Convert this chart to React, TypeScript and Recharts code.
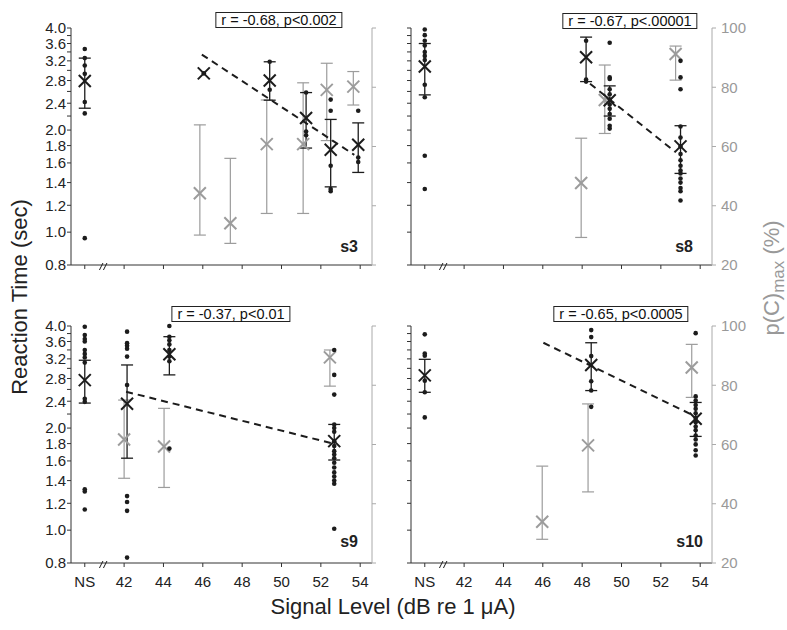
import React from "react";
import { ScatterChart, Scatter, XAxis, YAxis, ErrorBar, ReferenceDot } from "recharts";

const FONT = "'Liberation Sans', Arial, Helvetica, sans-serif";
const BLACK = "#1c1c1c";
const GRAY = "#9c9c9c";

// axis ticks
const rtTicks = [0.8, 1.0, 1.2, 1.4, 1.6, 1.8, 2.0, 2.2, 2.4, 2.6, 2.8, 3.0, 3.2, 3.4, 3.6, 3.8, 4.0];
const rtLabeled = [0.8, 1.0, 1.2, 1.4, 1.6, 1.8, 2.0, 2.4, 2.8, 3.2, 3.6, 4.0];
const pcTicks = [20, 40, 60, 80, 100];
const levelTicks = [40, 42, 44, 46, 48, 50, 52, 54]; // 40 = NS (no signal)

// s3 -- trials [level, RT], means [level, RT, low, high], p(C)max [level, %, low, high]
const s3Trials = [
  [40, 3.47], [40, 3.26], [40, 3.1], [40, 2.93], [40, 2.42], [40, 2.24], [40, 0.96],
  [46.05, 2.94],
  [49.4, 3.18], [49.4, 2.63],
  [51.25, 2.58], [51.25, 1.98], [51.25, 1.93],
  [52.5, 2.46], [52.5, 2.28], [52.5, 1.57], [52.5, 1.34], [52.5, 1.32],
  [53.9, 2.28], [53.9, 1.66], [53.9, 1.61],
];
const s3Means = [
  [40, 2.79, 2.32, 3.26], [46.05, 2.94, null, null], [49.4, 2.8, 2.45, 3.18],
  [51.25, 2.17, 1.77, 2.58], [52.5, 1.75, 1.36, 2.15], [53.9, 1.81, 1.5, 2.1],
];
const s3Pc = [
  [45.85, 44.2, 30.1, 67.3], [47.4, 34.1, 27.3, 56.0], [49.25, 60.8, 37.4, 75.7],
  [51.1, 60.8, 37.4, 81.5], [52.3, 79.1, 62, 88.1], [53.65, 80.2, 74, 85.3],
];
const s3Fit = [[45.95, 3.34], [53.7, 1.69]];

// s8
const s8Trials = [
  [40, 3.96], [40, 3.81], [40, 3.67], [40, 3.55], [40, 3.4], [40, 3.31], [40, 3.22], [40, 2.72], [40, 2.5], [40, 1.68], [40, 1.34],
  [48.2, 3.67], [48.2, 2.82], [48.2, 2.78],
  [49.4, 3.62], [49.4, 2.86], [49.4, 2.83], [49.4, 2.64], [49.4, 2.55], [49.4, 2.46], [49.4, 2.38], [49.4, 2.31], [49.4, 2.23], [49.4, 2.16], [49.4, 2.06], [49.4, 2.02],
  [53.0, 3.2], [53.0, 2.86], [53.0, 2.64], [53.0, 2.05], [53.0, 1.9], [53.0, 1.79], [53.0, 1.7], [53.0, 1.63], [53.0, 1.57], [53.0, 1.52], [53.0, 1.49], [53.0, 1.44], [53.0, 1.4], [53.0, 1.35], [53.0, 1.32], [53.0, 1.24],
];
const s8Means = [
  [40, 3.08, 2.54, 3.6], [48.2, 3.28, 2.78, 3.76], [49.4, 2.45, 2.2, 2.7], [53.0, 1.79, 1.49, 2.06],
];
const s8Pc = [[47.95, 47.7, 29.3, 62.8], [49.15, 75.7, 64.4, 87.5], [52.75, 91.2, 82.4, 93.9]];
const s8Fit = [[48.4, 2.74], [52.7, 1.73]];

// s9
const s9Trials = [
  [40, 3.98], [40, 3.76], [40, 3.66], [40, 3.6], [40, 3.4], [40, 3.31], [40, 3.23], [40, 3.12], [40, 2.44], [40, 2.39], [40, 1.32], [40, 1.3], [40, 1.15],
  [42.15, 3.85], [42.15, 3.56], [42.15, 3.5], [42.15, 3.43], [42.15, 3.25], [42.15, 2.68], [42.15, 1.26], [42.15, 1.21], [42.15, 1.14], [42.15, 0.83],
  [44.3, 4.0], [44.3, 3.72], [44.3, 3.63], [44.3, 3.53], [44.3, 3.4], [44.3, 3.25], [44.3, 3.15], [44.3, 1.74],
  [52.68, 3.4], [52.68, 2.87], [52.68, 2.51], [52.68, 2.05], [52.68, 2.0], [52.68, 1.95], [52.68, 1.83], [52.68, 1.77], [52.68, 1.71], [52.68, 1.67], [52.68, 1.63], [52.68, 1.58], [52.68, 1.53], [52.68, 1.48], [52.68, 1.44], [52.68, 1.4], [52.68, 1.37], [52.68, 1.01],
];
const s9Means = [
  [40, 2.77, 2.37, 3.17], [42.15, 2.36, 1.63, 3.07], [44.3, 3.3, 2.87, 3.72], [52.68, 1.83, 1.61, 2.05],
];
const s9Pc = [[42.0, 61.7, 48.6, 75], [44.03, 59.3, 45.5, 72.2], [52.46, 89.4, 79.7, 91.9]];
const s9Fit = [[42.1, 2.56], [52.62, 1.8]];

// s10
const s10Trials = [
  [40, 3.78], [40, 3.32], [40, 3.27], [40, 2.76], [40, 2.55], [40, 2.15],
  [48.46, 3.89], [48.46, 3.71], [48.46, 3.26], [48.46, 2.75], [48.46, 2.58], [48.46, 2.31],
  [53.77, 3.81], [53.77, 2.48], [53.77, 2.41], [53.77, 2.34], [53.77, 2.28], [53.77, 2.21], [53.77, 2.14], [53.77, 2.08], [53.77, 2.02], [53.77, 1.97], [53.77, 1.9], [53.77, 1.85], [53.77, 1.79], [53.77, 1.72], [53.77, 1.66],
];
const s10Means = [[40, 2.86, 2.55, 3.19], [48.46, 3.07, 2.58, 3.57], [53.77, 2.13, 1.89, 2.38]];
const s10Pc = [[45.97, 33.9, 28, 52.7], [48.3, 59.7, 44, 73.7], [53.57, 86, 75.9, 93.8]];
const s10Fit = [[46.03, 3.57], [53.65, 2.18]];

const pts = (a: any[]) => a.map(([x, y]) => ({ x, y }));
const withErr = (a: any[]) =>
  a.map(([x, y, lo, hi]) => ({ x, y, err: lo == null ? undefined : [y - lo, hi - y] }));

const dot = (p: any) => <circle cx={p.cx} cy={p.cy} r={2.3} fill={BLACK} />;
const cross = (color: string, w: number) => (p: any) => {
  const s = 6;
  return (
    <g stroke={color} strokeWidth={w}>
      <line x1={p.cx - s} y1={p.cy - s} x2={p.cx + s} y2={p.cy + s} />
      <line x1={p.cx - s} y1={p.cy + s} x2={p.cx + s} y2={p.cy - s} />
    </g>
  );
};
const noShape = () => <g />;
const breakMark = (p: any) => (
  <g stroke={BLACK} strokeWidth={1}>
    <line x1={p.cx - 5} y1={p.cy + 5} x2={p.cx - 1.5} y2={p.cy - 2} />
    <line x1={p.cx - 1} y1={p.cy + 5} x2={p.cx + 2.5} y2={p.cy - 2} />
  </g>
);

const panels = [
  { name: "s3", trials: s3Trials, means: s3Means, pc: s3Pc, fit: s3Fit, left: 0, top: 18, width: 400, wl: 71, wr: 28, isLeft: true, isBottom: false },
  { name: "s8", trials: s8Trials, means: s8Means, pc: s8Pc, fit: s8Fit, left: 391, top: 18, width: 391, wl: 20, wr: 70, isLeft: false, isBottom: false },
  { name: "s9", trials: s9Trials, means: s9Means, pc: s9Pc, fit: s9Fit, left: 0, top: 316, width: 400, wl: 71, wr: 28, isLeft: true, isBottom: true },
  { name: "s10", trials: s10Trials, means: s10Means, pc: s10Pc, fit: s10Fit, left: 391, top: 316, width: 391, wl: 20, wr: 70, isLeft: false, isBottom: true },
];

const stats = [
  { text: "r = -0.68, p<0.002", x: 279, y: 12 },
  { text: "r = -0.67, p<.00001", x: 630, y: 13 },
  { text: "r = -0.37, p<0.01", x: 231, y: 306 },
  { text: "r = -0.65, p<0.0005", x: 621, y: 306 },
];

const tickStyle = { fontSize: 15, fill: "#222", fontFamily: FONT };

function Panel({ p }: { p: any }) {
  return (
    <div style={{ position: "absolute", left: p.left, top: p.top }}>
      <ScatterChart width={p.width} height={287} margin={{ top: 10, right: 0, bottom: 0, left: 0 }}>
        <XAxis
          type="number"
          dataKey="x"
          domain={[39.3, 54.6]}
          ticks={levelTicks}
          interval={0}
          tickFormatter={(v: number) => (!p.isBottom ? "" : v === 40 ? "NS" : String(v))}
          height={40}
          tickSize={4}
          tickMargin={9}
          stroke="#333"
          tick={tickStyle}
        />
        <YAxis
          yAxisId="rt"
          dataKey="y"
          type="number"
          scale="log"
          domain={[0.8, 4]}
          ticks={rtTicks}
          interval={0}
          tickFormatter={(v: number) =>
            p.isLeft && rtLabeled.some((t) => Math.abs(t - v) < 1e-6) ? v.toFixed(1) : ""
          }
          width={p.wl}
          tickSize={4}
          tickMargin={1}
          stroke="#333"
          tick={tickStyle}
        />
        <YAxis
          yAxisId="p"
          orientation="right"
          dataKey="y"
          type="number"
          domain={[20, 100]}
          ticks={pcTicks}
          interval={0}
          tickFormatter={(v: number) => (p.isLeft ? "" : String(v))}
          width={p.wr}
          tickSize={4}
          tickMargin={5}
          stroke="#aaa"
          tick={{ ...tickStyle, fill: "#999" }}
        />
        <Scatter yAxisId="p" data={withErr(p.pc)} shape={cross(GRAY, 2)} isAnimationActive={false}>
          <ErrorBar dataKey="err" direction="y" width={6} stroke={GRAY} strokeWidth={1.2} isAnimationActive={false} />
        </Scatter>
        <Scatter
          yAxisId="rt"
          data={pts(p.fit)}
          line={{ stroke: BLACK, strokeWidth: 2, strokeDasharray: "7 5" }}
          shape={noShape}
          isAnimationActive={false}
        />
        <Scatter yAxisId="rt" data={pts(p.trials)} shape={dot} isAnimationActive={false} />
        <Scatter yAxisId="rt" data={withErr(p.means)} shape={cross(BLACK, 2)} isAnimationActive={false}>
          <ErrorBar dataKey="err" direction="y" width={6} stroke={BLACK} strokeWidth={1.3} isAnimationActive={false} />
        </Scatter>
        <ReferenceDot yAxisId="rt" x={41} y={0.8} ifOverflow="visible" shape={breakMark} />
      </ScatterChart>
    </div>
  );
}

export default function App() {
  return (
    <div style={{ position: "absolute", left: 0, top: 0, width: 787, height: 630, background: "#fff", fontFamily: FONT }}>
      {panels.map((p) => (
        <Panel key={p.name} p={p} />
      ))}
      {stats.map((s) => (
        <div
          key={s.text}
          style={{
            position: "absolute",
            left: s.x,
            top: s.y,
            transform: "translateX(-50%)",
            border: "1px solid #222",
            fontSize: 14.5,
            lineHeight: "14px",
            padding: "0 5px",
            whiteSpace: "nowrap",
            background: "#fff",
            color: "#111",
          }}
        >
          {s.text}
        </div>
      ))}
      <svg width={787} height={630} style={{ position: "absolute", left: 0, top: 0, pointerEvents: "none" }} fontFamily={FONT}>
        <text transform="translate(27,297) rotate(-90)" textAnchor="middle" fontSize={22} fill="#222">
          Reaction Time (sec)
        </text>
        <text x={393} y={614} textAnchor="middle" fontSize={22} fill="#222">
          Signal Level (dB re 1 μA)
        </text>
        <text transform="translate(779,278) rotate(-90)" textAnchor="middle" fontSize={22} fill="#999">
          p(C)<tspan fontSize={17} dy={5}>max</tspan>
          <tspan dy={-5}> (%)</tspan>
        </text>
        <g fontSize={16} fontWeight="bold" fill="#222" textAnchor="end">
          <text x={358} y={252}>s3</text>
          <text x={693} y={252}>s8</text>
          <text x={358} y={547}>s9</text>
          <text x={703} y={547}>s10</text>
        </g>
      </svg>
    </div>
  );
}
